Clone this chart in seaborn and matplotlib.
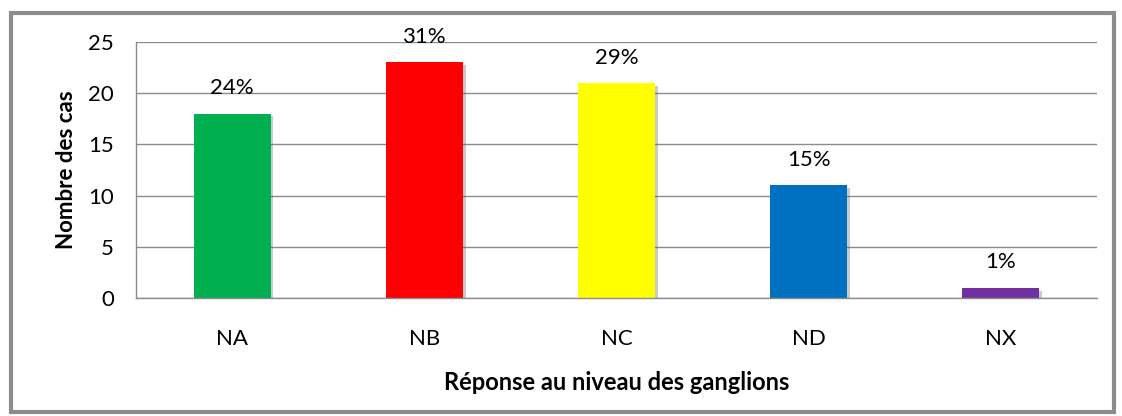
import matplotlib
matplotlib.use("Agg")
import matplotlib.pyplot as plt
import matplotlib.patheffects as pe
import seaborn as sns
import pandas as pd
from matplotlib.patches import Rectangle

categories = ["NA", "NB", "NC", "ND", "NX"]
counts = [18, 23, 21, 11, 1]
pct_labels = ["24%", "31%", "29%", "15%", "1%"]
colors = ["#00B050", "#FF0000", "#FFFF00", "#0070C0", "#7030A0"]
yticks = [0, 5, 10, 15, 20, 25]

sns.set_theme(style="white")
plt.rcParams['font.family'] = ['Lato', 'DejaVu Sans']
plt.rcParams['text.color'] = 'black'
plt.rcParams['axes.labelcolor'] = 'black'
plt.rcParams['xtick.color'] = 'black'
plt.rcParams['ytick.color'] = 'black'

df = pd.DataFrame({"cat": categories, "n": counts})

fig = plt.figure(figsize=(11.22, 4.16), dpi=100)
ax = fig.add_axes([136/1122, 1-298/416, (1097-136)/1122, (298-42)/416])

sns.barplot(data=df, x="cat", y="n", hue="cat", palette=colors, legend=False,
            width=0.4, ax=ax, saturation=1, edgecolor="none")

for p in ax.patches:
    p.set_path_effects([pe.SimplePatchShadow(offset=(2, -2), shadow_rgbFace='#555555', alpha=0.3),
                        pe.Normal()])

ax.set_ylim(0, 25)
ax.set_yticks(yticks)
ax.set_yticklabels([str(t) for t in yticks], fontsize=16)
ax.tick_params(axis='x', labelsize=16, pad=22, length=0)
ax.tick_params(axis='y', pad=16, length=0)
ax.grid(axis='y', color='#8c8c8c', linewidth=1)
ax.set_axisbelow(True)
for s in ["top", "right"]:
    ax.spines[s].set_visible(False)
ax.spines["left"].set_color('#8c8c8c')
ax.spines["bottom"].set_color('#8c8c8c')
ax.spines["left"].set_linewidth(1)
ax.spines["bottom"].set_linewidth(1)

for i, (c, lab) in enumerate(zip(counts, pct_labels)):
    ax.text(i, c + 1.5, lab, ha='center', va='bottom', fontsize=16, color='black')

ax.set_xlabel("Réponse au niveau des ganglions", fontsize=17, fontweight='bold', labelpad=16)
ax.set_ylabel("Nombre des cas", fontsize=16, fontweight='bold', labelpad=8)

fig.patches.append(Rectangle((11/1122, 1-412/416), (1114-11)/1122, (412-13)/416,
                             transform=fig.transFigure, fill=False,
                             edgecolor='#8c8c8c', linewidth=3))

fig.savefig("out.png", dpi=100)
